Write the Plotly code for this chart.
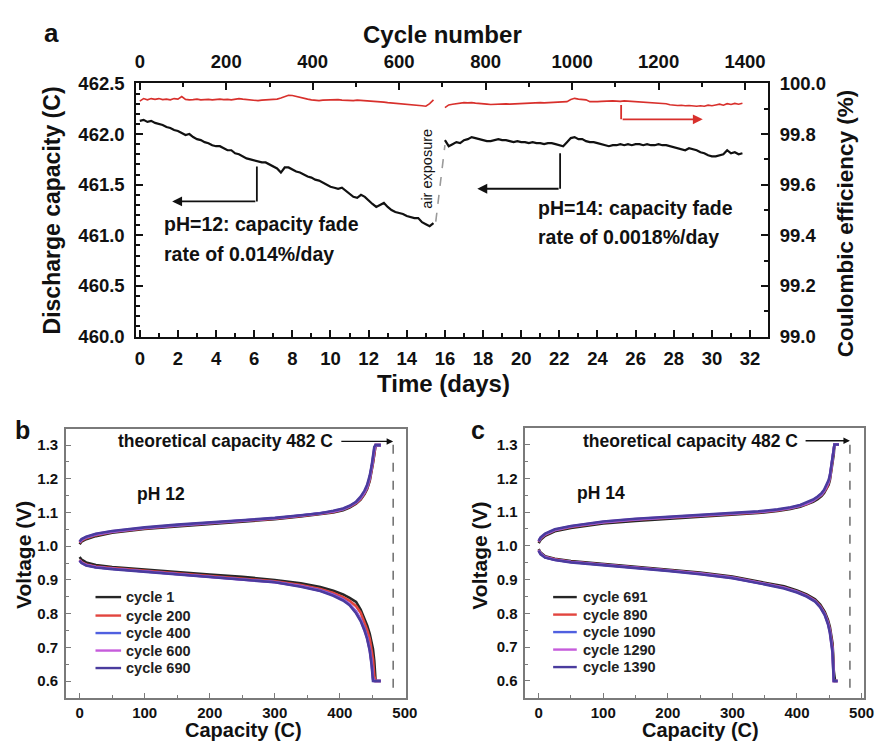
import plotly.graph_objects as go

FONT = "Liberation Sans, Arial, Helvetica, sans-serif"

# ---------------- panel a: long-term cycling ----------------
time_ph12 = [0.0, 0.2, 0.4, 0.6, 0.8, 1.0, 1.2, 1.4, 1.6, 1.8,
             2.0, 2.2, 2.4, 2.6, 2.8, 3.0, 3.2, 3.4, 3.6, 3.8,
             4.0, 4.2, 4.4, 4.6, 4.8, 5.0, 5.2, 5.4, 5.6, 5.8,
             6.0, 6.2, 6.4, 6.6, 6.8, 7.0, 7.2, 7.4, 7.6, 7.8,
             8.0, 8.2, 8.4, 8.6, 8.8, 9.0, 9.2, 9.4, 9.6, 9.8,
             10.0, 10.2, 10.4, 10.6, 10.8, 11.0, 11.2, 11.4, 11.6, 11.8,
             12.0, 12.2, 12.4, 12.6, 12.8, 13.0, 13.2, 13.4, 13.6, 13.8,
             14.0, 14.2, 14.4, 14.6, 14.8, 15.0, 15.2, 15.4]
capacity_ph12 = [462.13, 462.14, 462.12, 462.13, 462.11, 462.10, 462.09, 462.07, 462.06, 462.04,
                 462.03, 462.01, 461.99, 462.00, 461.97, 461.95, 461.94, 461.92, 461.91, 461.89,
                 461.88, 461.88, 461.86, 461.84, 461.84, 461.81, 461.80, 461.78, 461.76, 461.75,
                 461.74, 461.73, 461.72, 461.72, 461.70, 461.68, 461.66, 461.62, 461.67, 461.67,
                 461.65, 461.63, 461.62, 461.60, 461.58, 461.57, 461.55, 461.54, 461.52, 461.50,
                 461.48, 461.47, 461.46, 461.47, 461.44, 461.41, 461.38, 461.37, 461.40, 461.38,
                 461.34, 461.31, 461.28, 461.30, 461.32, 461.28, 461.25, 461.23, 461.22, 461.21,
                 461.19, 461.18, 461.17, 461.17, 461.13, 461.11, 461.09, 461.12]
ce_ph12 = [99.930, 99.940, 99.935, 99.940, 99.937, 99.940, 99.936, 99.938, 99.935, 99.940,
           99.938, 99.948, 99.937, 99.935, 99.936, 99.938, 99.935, 99.936, 99.937, 99.935,
           99.936, 99.938, 99.936, 99.937, 99.935, 99.938, 99.940, 99.938, 99.936, 99.934,
           99.933, 99.932, 99.934, 99.935, 99.936, 99.937, 99.938, 99.942, 99.948, 99.953,
           99.952, 99.948, 99.945, 99.942, 99.938, 99.935, 99.933, 99.932, 99.934, 99.935,
           99.936, 99.935, 99.936, 99.934, 99.933, 99.933, 99.932, 99.934, 99.933, 99.931,
           99.930, 99.931, 99.930, 99.928, 99.926, 99.924, 99.923, 99.922, 99.921, 99.920,
           99.918, 99.917, 99.917, 99.915, 99.912, 99.910, 99.920, 99.935]

time_ph14 = [16.0, 16.2, 16.4, 16.6, 16.8, 17.0, 17.2, 17.4, 17.6, 17.8,
             18.0, 18.2, 18.4, 18.6, 18.8, 19.0, 19.2, 19.4, 19.6, 19.8,
             20.0, 20.2, 20.4, 20.6, 20.8, 21.0, 21.2, 21.4, 21.6, 21.8,
             22.0, 22.2, 22.4, 22.6, 22.8, 23.0, 23.2, 23.4, 23.6, 23.8,
             24.0, 24.2, 24.4, 24.6, 24.8, 25.0, 25.2, 25.4, 25.6, 25.8,
             26.0, 26.2, 26.4, 26.6, 26.8, 27.0, 27.2, 27.4, 27.6, 27.8,
             28.0, 28.2, 28.4, 28.6, 28.8, 29.0, 29.2, 29.4, 29.6, 29.8,
             30.0, 30.2, 30.4, 30.6, 30.8, 31.0, 31.2, 31.4, 31.6]
capacity_ph14 = [461.94, 461.88, 461.90, 461.92, 461.91, 461.94, 461.95, 461.97, 461.96, 461.95,
                 461.94, 461.93, 461.93, 461.94, 461.95, 461.94, 461.94, 461.93, 461.92, 461.93,
                 461.92, 461.92, 461.91, 461.92, 461.91, 461.91, 461.90, 461.91, 461.91, 461.90,
                 461.89, 461.88, 461.92, 461.96, 461.97, 461.95, 461.95, 461.93, 461.92, 461.92,
                 461.91, 461.90, 461.89, 461.88, 461.89, 461.89, 461.90, 461.89, 461.90, 461.89,
                 461.90, 461.90, 461.89, 461.90, 461.89, 461.89, 461.90, 461.89, 461.89, 461.88,
                 461.87, 461.86, 461.85, 461.84, 461.86, 461.85, 461.84, 461.82, 461.81, 461.79,
                 461.78, 461.78, 461.79, 461.80, 461.84, 461.81, 461.82, 461.80, 461.81]
ce_ph14 = [99.904, 99.915, 99.918, 99.921, 99.923, 99.924, 99.923, 99.924, 99.922, 99.920,
           99.919, 99.918, 99.917, 99.918, 99.917, 99.918, 99.919, 99.918, 99.919, 99.920,
           99.921, 99.922, 99.923, 99.922, 99.923, 99.924, 99.923, 99.924, 99.925, 99.924,
           99.925, 99.926, 99.928, 99.936, 99.941, 99.938, 99.937, 99.935, 99.928, 99.927,
           99.928, 99.929, 99.930, 99.929, 99.931, 99.930, 99.929, 99.931, 99.930, 99.928,
           99.927, 99.928, 99.926, 99.925, 99.924, 99.923, 99.924, 99.922, 99.920, 99.916,
           99.914, 99.913, 99.914, 99.912, 99.913, 99.911, 99.910, 99.912, 99.910, 99.914,
           99.912, 99.915, 99.918, 99.914, 99.920, 99.917, 99.921, 99.918, 99.922]

cycle_axis_range = [0, 1400]

# ---------------- panels b and c: charge/discharge profiles ----------------
cycle_colors = ["#262626", "#e2453f", "#5060e0", "#c65cdb", "#4a3c9e"]

ph12_cycles = ["cycle 1", "cycle 200", "cycle 400", "cycle 600", "cycle 690"]
ph12_charge_capacity = [0, 3, 10, 25, 50, 75, 100, 150, 200, 250, 300, 340, 370, 390,
                        405, 415, 425, 432, 438, 442, 446, 449, 451, 453, 455, 459, 463]
ph12_charge_voltage = [
    [1.006, 1.014, 1.021, 1.030, 1.040, 1.046, 1.051, 1.059, 1.066, 1.073, 1.080, 1.088, 1.094, 1.100,
     1.107, 1.115, 1.126, 1.138, 1.155, 1.170, 1.194, 1.222, 1.247, 1.272, 1.300, 1.300, 1.300],
    [1.010, 1.017, 1.024, 1.033, 1.042, 1.048, 1.053, 1.061, 1.068, 1.075, 1.082, 1.090, 1.096, 1.102,
     1.109, 1.117, 1.128, 1.140, 1.157, 1.172, 1.197, 1.225, 1.250, 1.275, 1.300, 1.300, 1.300],
    [1.012, 1.019, 1.026, 1.035, 1.043, 1.049, 1.054, 1.062, 1.069, 1.076, 1.083, 1.091, 1.097, 1.103,
     1.110, 1.118, 1.130, 1.143, 1.160, 1.176, 1.202, 1.232, 1.258, 1.285, 1.300, 1.300, 1.300],
    [1.013, 1.020, 1.027, 1.036, 1.044, 1.050, 1.055, 1.063, 1.070, 1.076, 1.083, 1.091, 1.097, 1.104,
     1.111, 1.119, 1.131, 1.145, 1.162, 1.179, 1.206, 1.236, 1.263, 1.290, 1.300, 1.300, 1.300],
    [1.014, 1.021, 1.028, 1.037, 1.045, 1.051, 1.056, 1.064, 1.070, 1.077, 1.084, 1.092, 1.098, 1.105,
     1.112, 1.120, 1.132, 1.147, 1.165, 1.182, 1.210, 1.240, 1.268, 1.295, 1.300, 1.300, 1.300],
]
ph12_discharge_capacity = [0, 3, 10, 25, 50, 100, 150, 200, 250, 300, 340, 370, 390, 405,
                           415, 425, 432, 438, 442, 446, 449, 451, 453, 455, 457, 459, 463]
ph12_discharge_voltage = [
    [0.968, 0.960, 0.952, 0.944, 0.938, 0.930, 0.923, 0.916, 0.909, 0.900, 0.890, 0.879, 0.868, 0.857,
     0.847, 0.835, 0.812, 0.785, 0.765, 0.740, 0.718, 0.695, 0.660, 0.600, 0.600, 0.600, 0.600],
    [0.960, 0.953, 0.946, 0.940, 0.935, 0.927, 0.920, 0.913, 0.905, 0.896, 0.885, 0.873, 0.861, 0.849,
     0.838, 0.822, 0.803, 0.775, 0.752, 0.725, 0.695, 0.665, 0.615, 0.600, 0.600, 0.600, 0.600],
    [0.958, 0.951, 0.944, 0.938, 0.933, 0.925, 0.918, 0.911, 0.903, 0.894, 0.882, 0.869, 0.856, 0.842,
     0.828, 0.806, 0.783, 0.755, 0.730, 0.695, 0.655, 0.610, 0.600, 0.600, 0.600, 0.600, 0.600],
    [0.958, 0.951, 0.944, 0.938, 0.933, 0.925, 0.918, 0.911, 0.903, 0.893, 0.881, 0.868, 0.855, 0.841,
     0.827, 0.804, 0.781, 0.752, 0.728, 0.692, 0.650, 0.605, 0.600, 0.600, 0.600, 0.600, 0.600],
    [0.957, 0.950, 0.943, 0.937, 0.932, 0.924, 0.917, 0.910, 0.902, 0.893, 0.880, 0.867, 0.853, 0.839,
     0.825, 0.801, 0.778, 0.750, 0.725, 0.690, 0.645, 0.600, 0.600, 0.600, 0.600, 0.600, 0.600],
]

ph14_cycles = ["cycle 691", "cycle 890", "cycle 1090", "cycle 1290", "cycle 1390"]
ph14_charge_capacity = [0, 3, 10, 25, 50, 75, 100, 150, 200, 250, 300, 340, 370, 390,
                        405, 415, 425, 432, 438, 442, 446, 449, 451, 453, 455, 457, 458, 465]
ph14_charge_voltage = [
    [1.008, 1.018, 1.030, 1.043, 1.053, 1.060, 1.066, 1.074, 1.080, 1.086, 1.091, 1.097, 1.103, 1.109,
     1.116, 1.122, 1.130, 1.138, 1.147, 1.156, 1.168, 1.181, 1.195, 1.218, 1.243, 1.272, 1.300, 1.300],
    [1.012, 1.022, 1.033, 1.046, 1.056, 1.063, 1.069, 1.077, 1.083, 1.088, 1.093, 1.099, 1.105, 1.111,
     1.118, 1.124, 1.133, 1.141, 1.150, 1.160, 1.172, 1.186, 1.200, 1.225, 1.250, 1.280, 1.300, 1.300],
    [1.013, 1.023, 1.034, 1.047, 1.057, 1.064, 1.070, 1.078, 1.084, 1.089, 1.094, 1.100, 1.106, 1.112,
     1.119, 1.125, 1.134, 1.143, 1.152, 1.162, 1.175, 1.189, 1.204, 1.230, 1.256, 1.285, 1.300, 1.300],
    [1.014, 1.024, 1.035, 1.048, 1.058, 1.065, 1.071, 1.079, 1.085, 1.090, 1.095, 1.101, 1.107, 1.113,
     1.120, 1.126, 1.135, 1.144, 1.154, 1.164, 1.177, 1.192, 1.207, 1.233, 1.260, 1.290, 1.300, 1.300],
    [1.015, 1.025, 1.036, 1.049, 1.059, 1.066, 1.072, 1.080, 1.086, 1.091, 1.096, 1.102, 1.108, 1.114,
     1.121, 1.128, 1.137, 1.146, 1.156, 1.166, 1.180, 1.195, 1.210, 1.237, 1.265, 1.295, 1.300, 1.300],
]
ph14_discharge_capacity = [0, 3, 10, 25, 50, 100, 150, 200, 250, 300, 350, 380, 400, 415,
                           428, 436, 443, 448, 451, 453, 455, 456, 457, 459, 463]
ph14_discharge_voltage = [
    [0.990, 0.980, 0.969, 0.962, 0.955, 0.947, 0.939, 0.931, 0.921, 0.909, 0.892, 0.880, 0.868, 0.856,
     0.842, 0.826, 0.805, 0.781, 0.760, 0.740, 0.712, 0.680, 0.630, 0.600, 0.600],
    [0.988, 0.978, 0.967, 0.960, 0.953, 0.945, 0.937, 0.929, 0.919, 0.907, 0.889, 0.877, 0.865, 0.853,
     0.838, 0.822, 0.800, 0.775, 0.752, 0.730, 0.700, 0.660, 0.600, 0.600, 0.600],
    [0.987, 0.977, 0.966, 0.959, 0.952, 0.944, 0.936, 0.928, 0.918, 0.906, 0.888, 0.876, 0.864, 0.852,
     0.837, 0.820, 0.798, 0.772, 0.748, 0.725, 0.693, 0.650, 0.600, 0.600, 0.600],
    [0.986, 0.976, 0.966, 0.959, 0.952, 0.944, 0.936, 0.927, 0.917, 0.905, 0.887, 0.875, 0.863, 0.851,
     0.836, 0.819, 0.796, 0.770, 0.745, 0.721, 0.688, 0.643, 0.600, 0.600, 0.600],
    [0.985, 0.975, 0.965, 0.958, 0.951, 0.943, 0.935, 0.926, 0.916, 0.904, 0.886, 0.874, 0.862, 0.850,
     0.835, 0.818, 0.795, 0.768, 0.742, 0.718, 0.684, 0.638, 0.600, 0.600, 0.600],
]

theoretical_capacity = 482

W, H = 885, 749
BLACK = "#111111"
RED = "#d8302c"
FRAME = "#7a7a7a"

fig = go.Figure()

# panel a traces
fig.add_trace(go.Scatter(x=time_ph12, y=capacity_ph12, mode="lines",
                         line=dict(color=BLACK, width=2.2), showlegend=False,
                         xaxis="x", yaxis="y"))
fig.add_trace(go.Scatter(x=time_ph14, y=capacity_ph14, mode="lines",
                         line=dict(color=BLACK, width=2.2), showlegend=False,
                         xaxis="x", yaxis="y"))
fig.add_trace(go.Scatter(x=time_ph12, y=ce_ph12, mode="lines",
                         line=dict(color=RED, width=1.6), showlegend=False,
                         xaxis="x", yaxis="y2"))
fig.add_trace(go.Scatter(x=time_ph14, y=ce_ph14, mode="lines",
                         line=dict(color=RED, width=1.6), showlegend=False,
                         xaxis="x", yaxis="y2"))
# carrier for the cycle-number axis on top
fig.add_trace(go.Scatter(x=cycle_axis_range, y=[460.0, 460.0], mode="lines",
                         line=dict(width=0), opacity=0, hoverinfo="skip",
                         showlegend=False, xaxis="x2", yaxis="y"))

# panels b and c traces
def add_profiles(cycles, cc, cv, dc, dv, xa, ya):
    for i, name in enumerate(cycles):
        fig.add_trace(go.Scatter(x=dc, y=dv[i], mode="lines", name=name,
                                 line=dict(color=cycle_colors[i], width=2.6),
                                 xaxis=xa, yaxis=ya, showlegend=False))
        fig.add_trace(go.Scatter(x=cc, y=cv[i], mode="lines", name=name,
                                 line=dict(color=cycle_colors[i], width=2.6),
                                 xaxis=xa, yaxis=ya, showlegend=False))

add_profiles(ph12_cycles, ph12_charge_capacity, ph12_charge_voltage,
             ph12_discharge_capacity, ph12_discharge_voltage, "x3", "y3")
add_profiles(ph14_cycles, ph14_charge_capacity, ph14_charge_voltage,
             ph14_discharge_capacity, ph14_discharge_voltage, "x4", "y4")

def px_x(p):
    return p / W

def px_y(p):
    return 1 - p / H

tick_a = dict(family=FONT, size=18.5, color=BLACK, weight="bold")
tick_bc = dict(family=FONT, size=15, color=BLACK, weight="bold")

axis_a = dict(showline=True, linecolor=BLACK, linewidth=2, ticks="inside",
              ticklen=7, tickwidth=2, tickcolor=BLACK, showgrid=False,
              zeroline=False, tickfont=tick_a)
axis_bc = dict(showline=True, linecolor=FRAME, linewidth=1.5, mirror=True,
               ticks="inside", ticklen=5, tickwidth=1.2, tickcolor=FRAME,
               showgrid=False, zeroline=False, tickfont=tick_bc)

dom_a_x = [px_x(136.5), px_x(778.3)]
dom_a_y = [px_y(335), px_y(74.5)]

fig.update_layout(
    width=W, height=H, margin=dict(l=0, r=0, t=0, b=0),
    paper_bgcolor="white", plot_bgcolor="rgba(0,0,0,0)",
    font=dict(family=FONT, color=BLACK),
    showlegend=False,
    xaxis=dict(axis_a, domain=dom_a_x, range=[-0.18, 32.94], anchor="y",
               dtick=2, tick0=0, ticklabelstandoff=4,
               minor=dict(dtick=1, ticks="inside", ticklen=4, tickwidth=2, tickcolor=BLACK)),
    xaxis2=dict(axis_a, range=[-8, 1453], overlaying="x", side="top", anchor="y",
                dtick=200, tick0=0, ticklabelstandoff=6,
                minor=dict(dtick=100, ticks="inside", ticklen=4, tickwidth=2, tickcolor=BLACK)),
    yaxis=dict(axis_a, domain=dom_a_y, range=[460.0, 462.5], anchor="x",
               dtick=0.5, tick0=460, tickformat=".1f", ticklabelstandoff=6,
               minor=dict(dtick=0.1, ticks="inside", ticklen=4, tickwidth=2, tickcolor=BLACK)),
    yaxis2=dict(axis_a, range=[99.0, 100.0], overlaying="y", side="right", anchor="x",
                dtick=0.2, tick0=99, tickformat=".1f", ticklabelstandoff=6,
                minor=dict(dtick=0.1, ticks="inside", ticklen=4, tickwidth=2, tickcolor=BLACK)),
    xaxis3=dict(axis_bc, domain=[px_x(65), px_x(410)], range=[-21, 501], anchor="y3",
                dtick=100, tick0=0, ticklabelstandoff=0,
                minor=dict(dtick=50, ticks="inside", ticklen=3, tickcolor=FRAME)),
    yaxis3=dict(axis_bc, domain=[px_y(706.7), px_y(430)], range=[0.55, 1.348], anchor="x3",
                dtick=0.1, tick0=0.6, tickformat=".1f", ticklabelstandoff=3,
                minor=dict(dtick=0.05, ticks="inside", ticklen=3, tickcolor=FRAME)),
    xaxis4=dict(axis_bc, domain=[px_x(531.7), px_x(876)], range=[-20.7, 504], anchor="y4",
                dtick=100, tick0=0, ticklabelstandoff=0,
                minor=dict(dtick=50, ticks="inside", ticklen=3, tickcolor=FRAME)),
    yaxis4=dict(axis_bc, domain=[px_y(706.7), px_y(429.3)], range=[0.55, 1.348], anchor="x4",
                dtick=0.1, tick0=0.6, tickformat=".1f", ticklabelstandoff=3,
                minor=dict(dtick=0.05, ticks="inside", ticklen=3, tickcolor=FRAME)),
)

ann = []
shapes = []

def text(x, y, s, size, xref="paper", yref="paper", xanchor="center", yanchor="middle",
         bold=True, angle=0, color=BLACK):
    ann.append(dict(x=x, y=y, xref=xref, yref=yref, text=s, showarrow=False,
                    xanchor=xanchor, yanchor=yanchor, textangle=angle,
                    font=dict(family=FONT, size=size, color=color,
                              weight="bold" if bold else "normal")))

def arrow(x0, y0, x1, y1, xref, yref, color, width=1.8, size=1.1):
    ann.append(dict(x=x1, y=y1, ax=x0, ay=y0, xref=xref, yref=yref, axref=xref, ayref=yref,
                    text="", showarrow=True, arrowhead=2, arrowsize=size,
                    arrowwidth=width, arrowcolor=color, standoff=0, startstandoff=0))

def seg(x0, y0, x1, y1, xref, yref, color, width=1.8, dash="solid"):
    shapes.append(dict(type="line", x0=x0, y0=y0, x1=x1, y1=y1, xref=xref, yref=yref,
                       line=dict(color=color, width=width, dash=dash)))

# panel a titles and labels
text(px_x(50), px_y(23), "a", 26)
text(px_x(448), px_y(24.5), "Cycle number", 24)
text(px_x(449), px_y(383), "Time (days)", 24)
text(px_x(51), px_y(205), "Discharge capacity (C)", 23, angle=-90)
text(px_x(857), px_y(218), "Coulombic efficiency (%)", 22.5, angle=-90)

text(1.14, 461.115, "pH=12: capacity fade", 19.5, xref="x", yref="y", xanchor="left")
text(1.14, 460.815, "rate of 0.014%/day", 19.5, xref="x", yref="y", xanchor="left")
text(20.75, 461.27, "pH=14: capacity fade", 19.5, xref="x", yref="y", xanchor="left")
text(20.75, 460.98, "rate of 0.0018%/day", 19.5, xref="x", yref="y", xanchor="left")
text(15.07, 461.66, "air exposure", 14.5, xref="x", yref="y", bold=False, angle=-90)

# pointer arrows toward each axis
seg(6.14, 461.68, 6.14, 461.335, "x", "y", BLACK)
arrow(6.14, 461.335, 1.70, 461.335, "x", "y", BLACK)
seg(22.04, 461.81, 22.04, 461.46, "x", "y", BLACK)
arrow(22.04, 461.46, 17.70, 461.46, "x", "y", BLACK)
seg(25.24, 99.915, 25.24, 99.858, "x", "y2", RED)
arrow(25.24, 99.858, 29.52, 99.858, "x", "y2", RED)
seg(15.52, 461.135, 16.0, 461.89, "x", "y", "#9a9a9a", width=1.6, dash="dash")

# panels b and c labels
text(px_x(21), px_y(431), "b", 25)
text(px_x(483.5), px_y(431), "c", 25)
panels = [
    ("x3", "y3", "pH 12", 125, 56, 400, 245, 22, ph12_cycles, 95, 121, 124,
     [603, 622, 640, 658, 676]),
    ("x4", "y4", "pH 14", 96, 65, 411, 710, 485, ph14_cycles, 560, 584, 588,
     [603, 621, 639, 657, 675]),
]
for (xa, ya, ph, x_lab, x_txt, x_arrow, cx, vx, names,
     lx0, lx1, tx, rows) in panels:
    text(x_txt, 1.311, "theoretical capacity 482 C", 17.5, xref=xa, yref=ya, xanchor="left")
    arrow(x_arrow, 1.311, theoretical_capacity, 1.311, xa, ya, BLACK, width=1.3, size=1.0)
    seg(theoretical_capacity, 0.58, theoretical_capacity, 1.325, xa, ya, "#555555",
        width=1.3, dash="dash")
    text(x_lab, 1.155, ph, 17.5, xref=xa, yref=ya)
    text(px_x(cx), px_y(740), "Capacity (C)", 20)
    text(px_x(vx), px_y(560), "Voltage (V)", 21, angle=-90)
    # legend: colour swatch and cycle label per row
    for name, color, ry in zip(names, cycle_colors, rows):
        seg(px_x(lx0), px_y(ry), px_x(lx1), px_y(ry), "paper", "paper", color, width=2.4)
        text(px_x(tx), px_y(ry), name, 14.5, xanchor="left", color="#222222")

fig.update_layout(annotations=ann, shapes=shapes)
fig.write_html("out.html")
